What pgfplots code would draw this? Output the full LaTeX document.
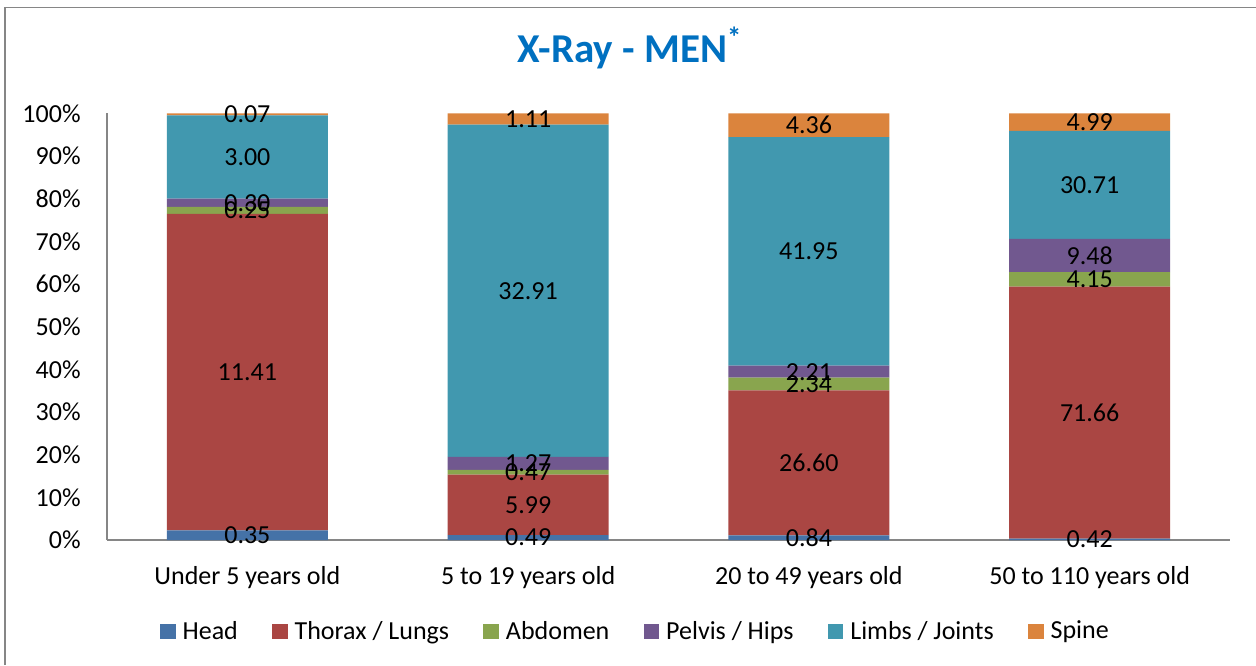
\documentclass[border=0pt]{standalone}
\usepackage{fontspec}
\setmainfont{Carlito}
\usepackage{pgfplots}
\usepackage{pgfplotstable}
\pgfplotsset{compat=1.18}
\definecolor{cHead}{HTML}{4572A7}
\definecolor{cThor}{HTML}{AA4643}
\definecolor{cAbd}{HTML}{89A54E}
\definecolor{cPel}{HTML}{71588F}
\definecolor{cLimb}{HTML}{4198AF}
\definecolor{cSpine}{HTML}{DB843D}
\definecolor{frameGray}{HTML}{868686}
\definecolor{titleBlue}{HTML}{0070C0}
\newcommand\fs{\fontsize{13}{15}\selectfont}

% share of each age group (percent) and the raw value printed on the segment
\pgfplotstableread{
x head  headL thor   thorL abd   abdL pel   pelL limb   limbL spine spineL
0 2.276 0.35  74.187 11.41 1.625 0.25 1.951 0.30 19.506 3.00  0.455 0.07
1 1.160 0.49  14.181 5.99  1.113 0.47 3.007 1.27 77.912 32.91 2.628 1.11
2 1.073 0.84  33.972 26.60 2.989 2.34 2.822 2.21 53.576 41.95 5.568 4.36
3 0.346 0.42  59.023 71.66 3.418 4.15 7.808 9.48 25.294 30.71 4.110 4.99
}\xray

\begin{document}
\begin{tikzpicture}
\begin{axis}[
  at={(0,0)}, anchor=south west,
  ybar stacked, bar width=80.5pt,
  scale only axis, width=561.5pt, height=213.33pt,
  xmin=-0.5, xmax=3.5, ymin=0, ymax=100,
  enlargelimits=false, clip=false,
  axis x line*=bottom, axis y line*=left,
  axis line style={frameGray, line width=0.85pt, -},
  major tick length=0pt,
  xtick={0,1,2,3},
  xticklabels={Under 5 years old, 5 to 19 years old, 20 to 49 years old, 50 to 110 years old},
  ytick={0,10,...,100},
  yticklabels={0\%,10\%,20\%,30\%,40\%,50\%,60\%,70\%,80\%,90\%,100\%},
  xticklabel style={font=\fs, inner sep=0pt, anchor=north, yshift=-13pt},
  yticklabel style={font=\fs, inner sep=0pt, anchor=east, xshift=-13pt},
  point meta=explicit symbolic,
  nodes near coords,
  every node near coord/.append style={anchor=center, font=\fs, text=black},
  legend columns=6,
  legend style={at={(0.4714,-0.2145)}, anchor=center, draw=none, font=\fs,
    /tikz/every odd column/.append style={column sep=1.5pt},
    /tikz/every even column/.append style={column sep=15.1pt}},
  legend image code/.code={\fill[#1] (0pt,-3.9pt) rectangle (7.8pt,3.9pt);},
]
\addplot[fill=cHead, draw=none] table[x=x, y=head, meta=headL] {\xray};
\addplot[fill=cThor, draw=none] table[x=x, y=thor, meta=thorL] {\xray};
\addplot[fill=cAbd, draw=none] table[x=x, y=abd, meta=abdL] {\xray};
\addplot[fill=cPel, draw=none] table[x=x, y=pel, meta=pelL] {\xray};
\addplot[fill=cLimb, draw=none] table[x=x, y=limb, meta=limbL] {\xray};
\addplot[fill=cSpine, draw=none] table[x=x, y=spine, meta=spineL] {\xray};
\legend{Head, Thorax / Lungs, Abdomen, Pelvis / Hips, Limbs / Joints, Spine}
\node[anchor=base, text=titleBlue, font=\fontsize{20.5}{24}\selectfont\bfseries]
  at (rel axis cs:0.4657,1.12) {X-Ray - MEN\textsuperscript{*}};
\end{axis}
\draw[frameGray, line width=0.85pt] (-51pt,-62.5pt) -- (-51pt,266.3pt) -- (574.5pt,266.3pt);
\pgfresetboundingbox
\path[use as bounding box] (-53.5pt,-62.5pt) rectangle (574.5pt,270pt);
\end{tikzpicture}
\end{document}
